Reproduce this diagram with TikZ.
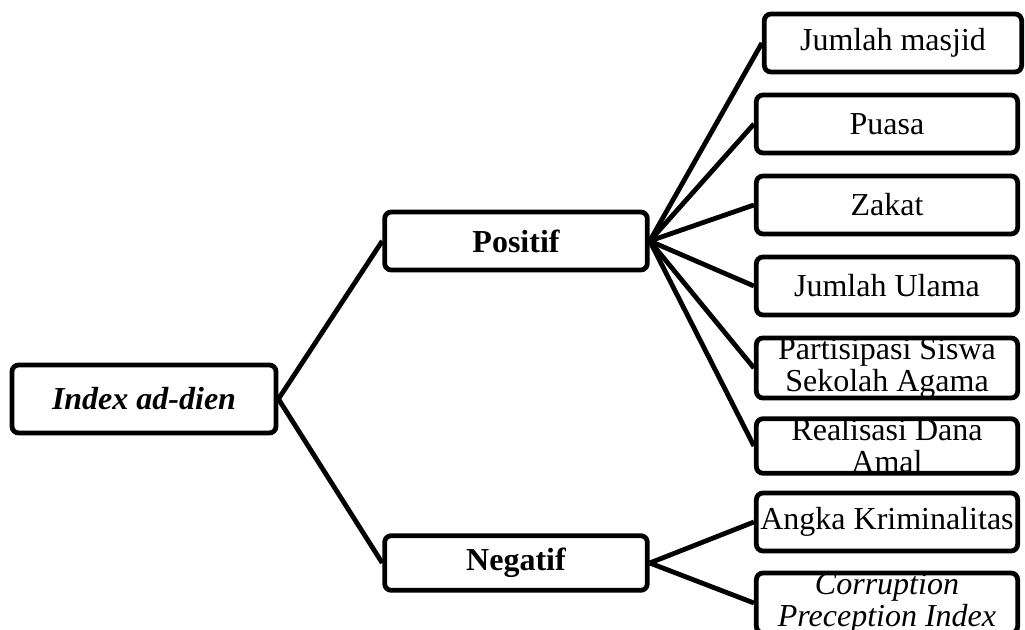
\documentclass[tikz,border=0pt]{standalone}
\usepackage{fontspec}
\setmainfont{Liberation Serif}
\usetikzlibrary{positioning}
\newcommand{\boxfont}{\fontsize{24}{24}\selectfont}

\begin{document}
\begin{tikzpicture}[
      x=0.75pt, y=-0.75pt,
      font=\boxfont,
      box/.style={draw, line width=3.6pt, rounded corners=5pt, align=center,
                  minimum width=196pt, minimum height=43.5pt,
                  inner xsep=2pt, inner ysep=0pt, fill=white},
      hub/.style={box, font=\boxfont\bfseries},
      leaf/.style={box},
      link/.style={line width=3.6pt}
    ]
    \clip (0,0) rectangle (1025,630);

    % ---- root ----
    \node[box, font=\boxfont\bfseries\itshape, minimum width=198pt,
          minimum height=51pt] (idx) at (144,399) {Index ad-dien};

    % ---- groups ----
    \node[hub, minimum width=197pt] (pos) at (516,241) {Positif};
    \node[hub, minimum width=197pt, minimum height=41pt] (neg) at (516,563) {Negatif};

    % ---- positive indicators ----
    \node[leaf, minimum width=193pt] (masjid) at (893,43) {Jumlah masjid};
    \node[leaf] (puasa) at (887,124) {Puasa};
    \node[leaf] (zakat) at (887,205) {Zakat};
    \node[leaf] (ulama) at (887,286) {Jumlah Ulama};
    \node[leaf] (siswa) at (887,368) {Partisipasi Siswa\\ Sekolah Agama};
    \node[leaf, minimum height=38pt] (amal) at (887,446) {Realisasi Dana\\ Amal};

    % ---- negative indicators ----
    \node[leaf] (krim) at (887,522) {Angka Kriminalitas};
    \node[leaf, font=\boxfont\itshape] (cpi) at (887,603)
      {Corruption\\ Preception Index};

    \draw[link] (idx.east) -- (pos.west);
    \draw[link] (idx.east) -- (neg.west);
    \draw[link] (pos.east) -- (masjid.west);
    \draw[link] (pos.east) -- (puasa.west);
    \draw[link] (pos.east) -- (zakat.west);
    \draw[link] (pos.east) -- (ulama.west);
    \draw[link] (pos.east) -- (siswa.west);
    \draw[link] (pos.east) -- (amal.west);
    \draw[link] (neg.east) -- (krim.west);
    \draw[link] (neg.east) -- (cpi.west);
  \end{tikzpicture}
\end{document}
